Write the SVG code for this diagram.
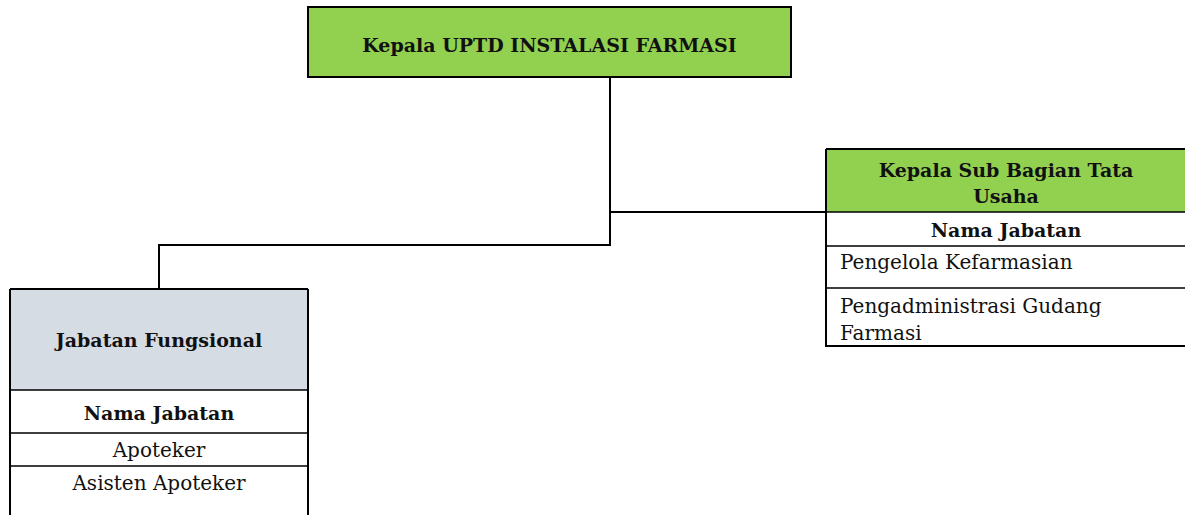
<svg xmlns="http://www.w3.org/2000/svg" width="1185" height="515" viewBox="0 0 1185 515">
<style>
text{font-family:"DejaVu Serif","Liberation Serif",serif;fill:#111;font-size:20px}
.b{font-weight:bold;font-size:19px}
.ln{stroke:#000;stroke-width:2;fill:none}
.thin{stroke:#000;stroke-width:1.5;fill:none}
</style>
<rect width="1185" height="515" fill="#fff"/>
<g id="connectors">
<path class="ln" d="M610,77 V245 H159 V290"/>
<path class="ln" d="M610,212 H826"/>
</g>
<g id="kepala">
<rect x="308" y="7" width="483" height="70" fill="#92D050" stroke="#000" stroke-width="2"/>
<text class="b" x="549.5" y="52" text-anchor="middle">Kepala UPTD INSTALASI FARMASI</text>
</g>
<g id="subbag">
<rect x="826" y="149" width="362" height="63" fill="#92D050"/>
<path class="ln" d="M826,149 H1185 M826,149 V346 H1185"/>
<path class="thin" d="M826,212 H1185 M826,246 H1185 M826,288 H1185"/>
<text class="b" x="1006" y="177" text-anchor="middle">Kepala Sub Bagian Tata</text>
<text class="b" x="1006" y="203" text-anchor="middle">Usaha</text>
<text class="b" x="1006" y="237" text-anchor="middle">Nama Jabatan</text>
<text x="840" y="269">Pengelola Kefarmasian</text>
<text x="840" y="313">Pengadministrasi Gudang</text>
<text x="840" y="340">Farmasi</text>
</g>
<g id="fungsional">
<rect x="10" y="289" width="298" height="101" fill="#D6DCE4"/>
<path class="ln" d="M10,289 H308 M10,289 V515 M308,289 V515"/>
<path class="thin" d="M10,390 H308 M10,433 H308 M10,466 H308"/>
<text class="b" x="159" y="347" text-anchor="middle">Jabatan Fungsional</text>
<text class="b" x="159" y="420" text-anchor="middle">Nama Jabatan</text>
<text x="159" y="457" text-anchor="middle">Apoteker</text>
<text x="159" y="490" text-anchor="middle">Asisten Apoteker</text>
</g>
</svg>
